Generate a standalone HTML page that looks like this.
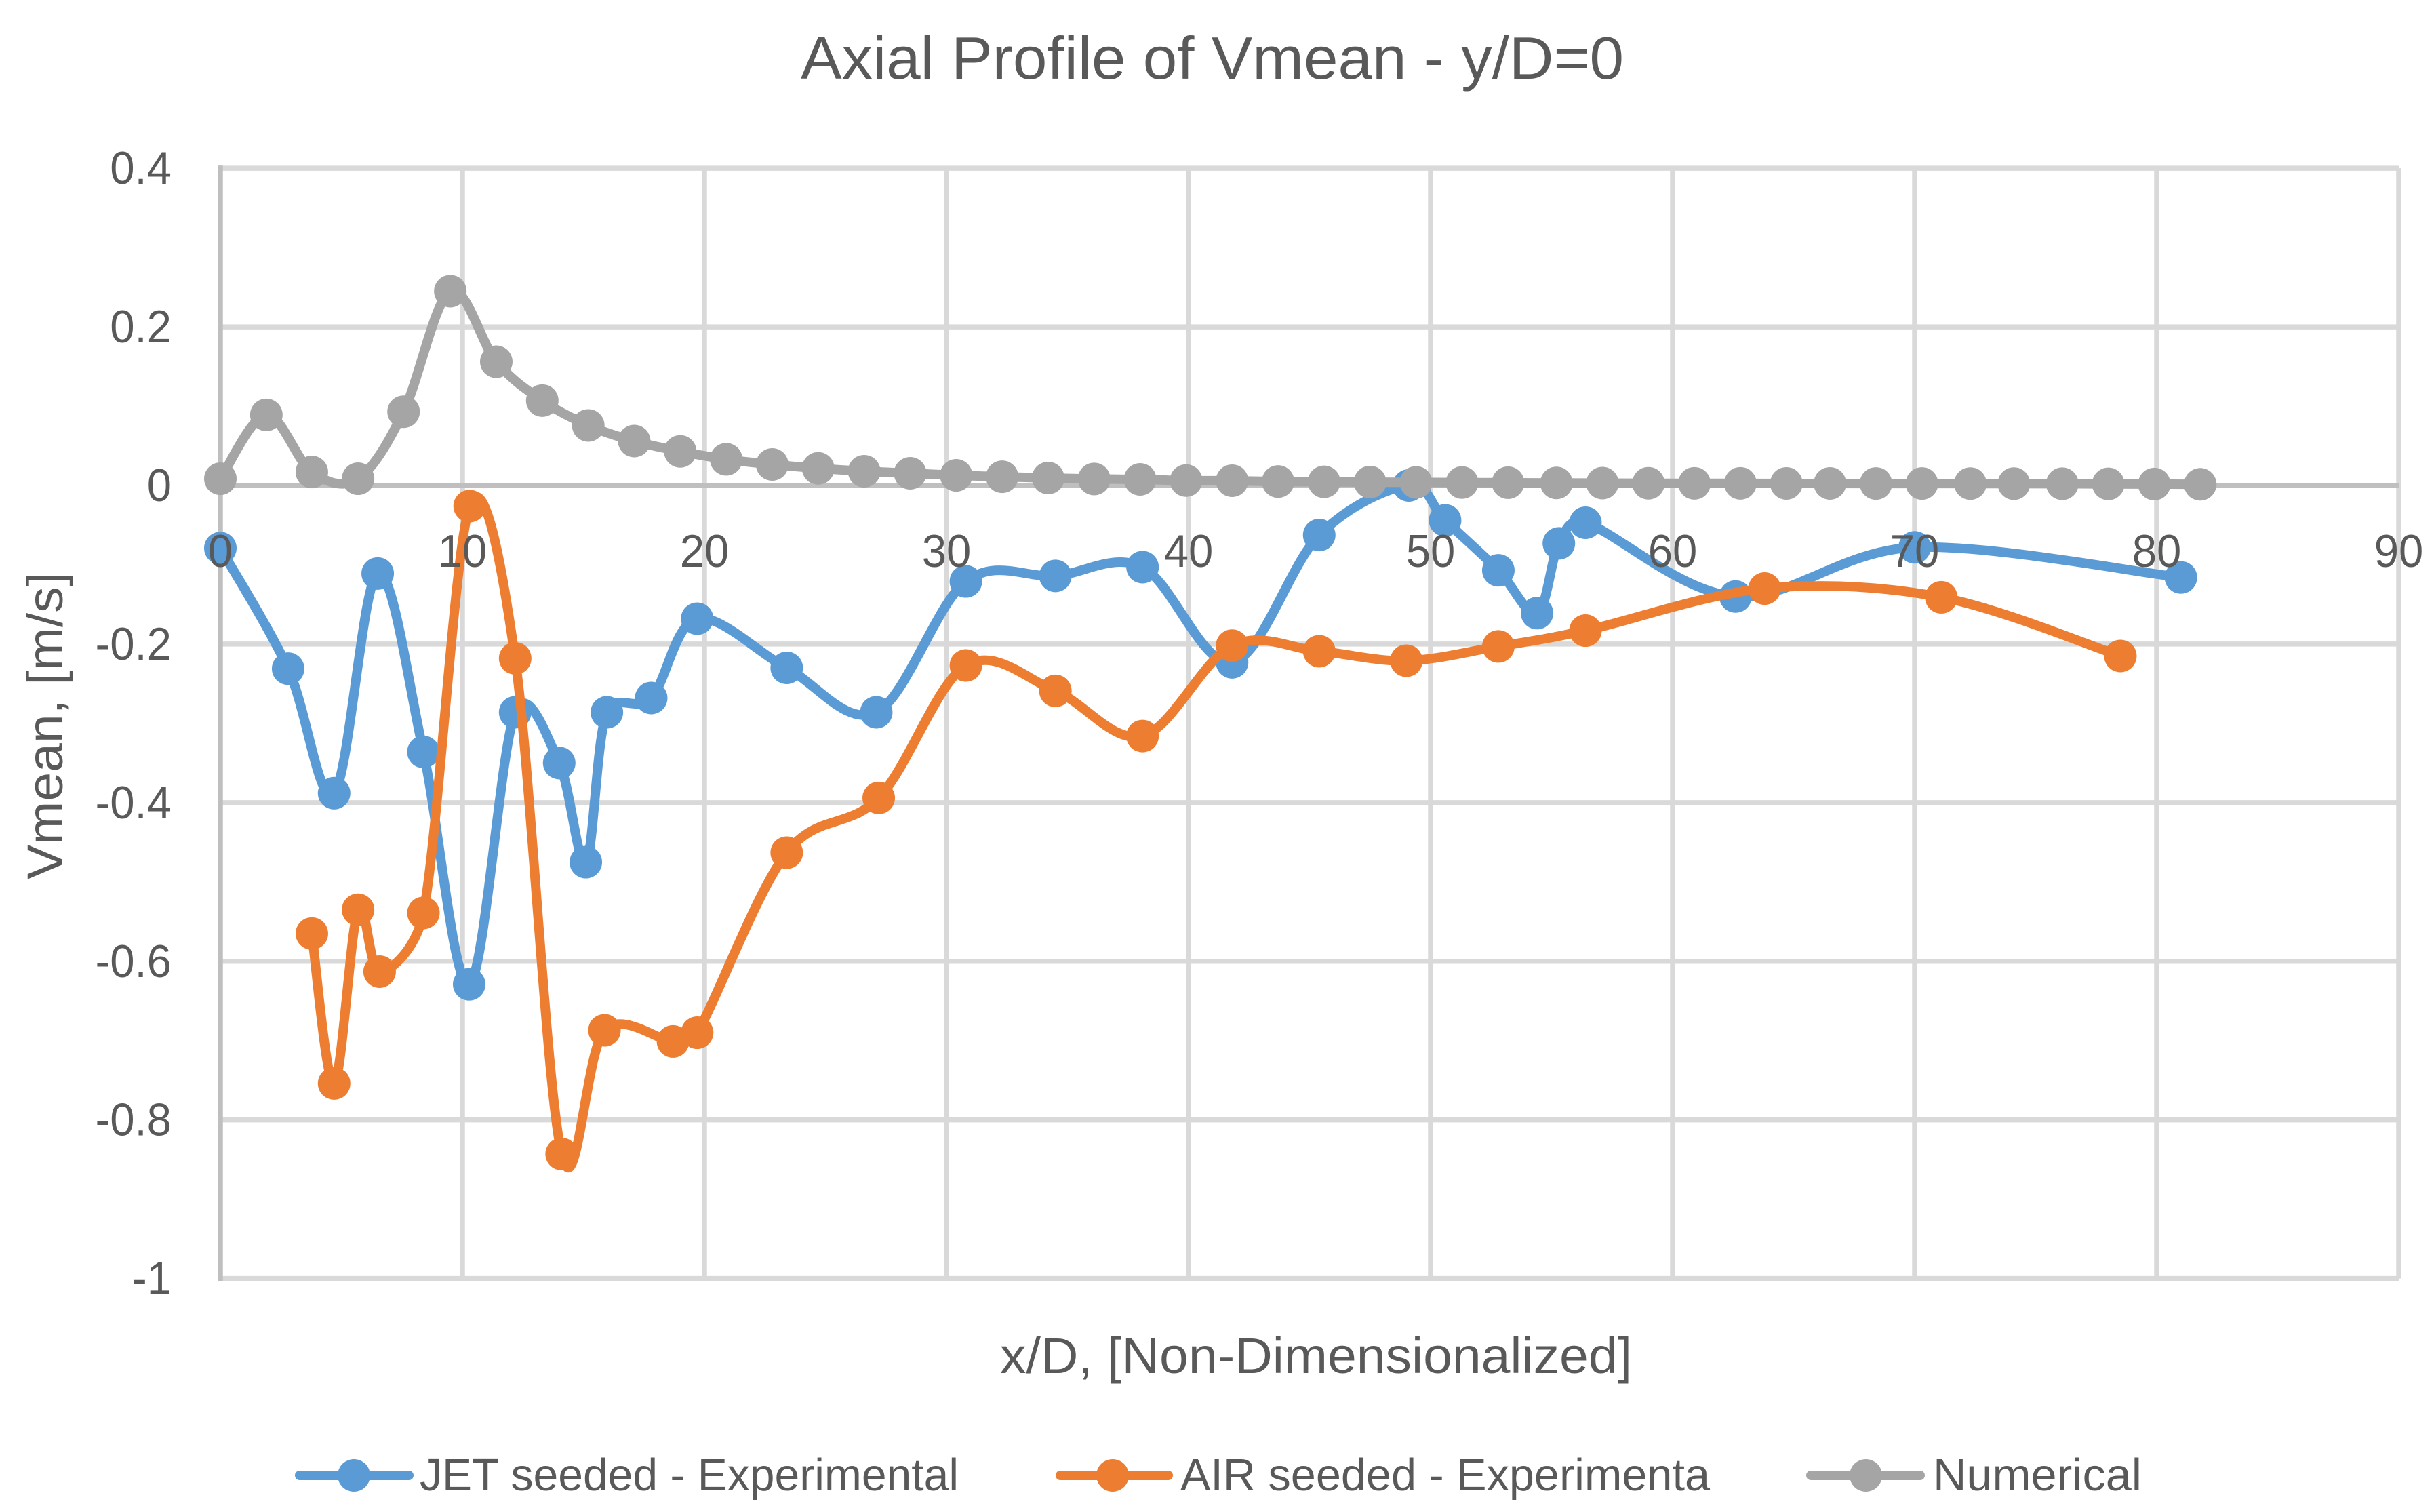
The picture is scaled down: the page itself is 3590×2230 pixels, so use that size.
<!DOCTYPE html>
<html lang="en">
<head>
<meta charset="utf-8">
<title>Axial Profile of Vmean - y/D=0</title>
<style>
html,body{margin:0;padding:0;background:#fff;}
svg{display:block;}
text{font-family:"Liberation Sans",sans-serif;fill:#595959;}
</style>
</head>
<body>
<svg id="chart" xmlns="http://www.w3.org/2000/svg" width="3590" height="2230" viewBox="0 0 3590 2230">
  <rect x="0" y="0" width="3590" height="2230" fill="#ffffff"/>
  <g id="grid"></g>
  <g id="axes"></g>
  <g id="series"></g>
  <g id="ticks"></g>
  <text x="1181" y="116" font-size="88" textLength="1214" lengthAdjust="spacingAndGlyphs">Axial Profile of Vmean - y/D=0</text>
  <text x="1475" y="2025" font-size="74" textLength="932" lengthAdjust="spacingAndGlyphs">x/D, [Non-Dimensionalized]</text>
  <text transform="translate(92,1297) rotate(-90)" x="0" y="0" font-size="74" textLength="453" lengthAdjust="spacingAndGlyphs">Vmean, [m/s]</text>
  <g>
    <g>
      <line x1="442" y1="2176" x2="603" y2="2176" stroke="#5b9bd5" stroke-width="14" stroke-linecap="round"/>
      <circle cx="522" cy="2176" r="24" fill="#5b9bd5"/>
      <text x="619" y="2198" font-size="67" textLength="795" lengthAdjust="spacingAndGlyphs">JET seeded - Experimental</text>
    </g>
    <g>
      <line x1="1564" y1="2176" x2="1723" y2="2176" stroke="#ed7d31" stroke-width="14" stroke-linecap="round"/>
      <circle cx="1641" cy="2176" r="24" fill="#ed7d31"/>
      <text x="1741" y="2198" font-size="67" textLength="781" lengthAdjust="spacingAndGlyphs">AIR seeded - Experimenta</text>
    </g>
    <g>
      <line x1="2671" y1="2176" x2="2832" y2="2176" stroke="#a5a5a5" stroke-width="14" stroke-linecap="round"/>
      <circle cx="2752" cy="2176" r="24" fill="#a5a5a5"/>
      <text x="2851" y="2198" font-size="67" textLength="308" lengthAdjust="spacingAndGlyphs">Numerical</text>
    </g>
  </g>
</svg>
<script>
const xTicks = [0,10,20,30,40,50,60,70,80,90];
const yTicks = [0.4,0.2,0,-0.2,-0.4,-0.6,-0.8,-1];

const jetX = [0,2.8,4.7,6.5,8.39,10.28,12.18,14.0,15.1,15.97,17.8,19.7,23.4,27.1,30.8,34.5,38.1,41.8,45.4,49.1,50.6,52.8,54.4,55.3,56.4,62.6,70.0,81.0];
const jetY = [-0.079,-0.231,-0.388,-0.111,-0.336,-0.629,-0.286,-0.35,-0.475,-0.286,-0.268,-0.168,-0.23,-0.286,-0.121,-0.114,-0.103,-0.223,-0.0625,0.0,-0.044,-0.107,-0.161,-0.073,-0.047,-0.14,-0.078,-0.116];

const airX = [3.78,4.7,5.69,6.58,8.39,10.3,12.18,14.1,15.87,18.7,19.7,23.4,27.2,30.8,34.5,38.1,41.8,45.4,49.0,52.8,56.4,63.8,71.1,78.5];
const airY = [-0.565,-0.754,-0.535,-0.613,-0.539,-0.026,-0.218,-0.843,-0.687,-0.701,-0.69,-0.463,-0.394,-0.227,-0.259,-0.316,-0.202,-0.209,-0.221,-0.203,-0.183,-0.130,-0.141,-0.215];

const numX = [0,1.9,3.78,5.69,7.57,9.5,11.4,13.3,15.2,17.1,19,20.9,22.8,24.7,26.6,28.5,30.4,32.3,34.2,36.1,38.0,39.9,41.8,43.7,45.6,47.5,49.4,51.3,53.2,55.2,57.1,59,60.9,62.8,64.7,66.5,68.4,70.3,72.3,74.1,76.1,78,79.9,81.8];
const numY = [0.0085,0.089,0.017,0.0085,0.093,0.245,0.156,0.107,0.0757,0.056,0.043,0.033,0.0265,0.0216,0.018,0.0154,0.0128,0.011,0.0094,0.0082,0.0077,0.0062,0.006,0.005,0.0046,0.0043,0.0039,0.0037,0.0035,0.0032,0.003,0.0028,0.0027,0.0027,0.0026,0.0026,0.0025,0.0025,0.0024,0.0023,0.0022,0.002,0.0018,0.0015];

const NS = 'http://www.w3.org/2000/svg';
function sx(v){ return 325 + v * 35.7; }
function sy(v){ return 716 - v * 1169.6; }

function smoothPath(xs, ys){
  const p = xs.map(function(x,i){ return [sx(x), sy(ys[i])]; });
  function dist(a,b){ return Math.hypot(a[0]-b[0], a[1]-b[1]); }
  function handle(a, b, seg){
    const vx = (b[0]-a[0]) / 6, vy = (b[1]-a[1]) / 6;
    const len = Math.hypot(vx, vy) || 1;
    const s = Math.min(1, 0.5 * seg / len);
    return [vx * s, vy * s];
  }
  let d = 'M' + p[0][0].toFixed(1) + ' ' + p[0][1].toFixed(1);
  for (let i = 0; i < p.length - 1; i++){
    const p0 = p[Math.max(i-1,0)], p1 = p[i], p2 = p[i+1], p3 = p[Math.min(i+2,p.length-1)];
    const seg = dist(p1,p2);
    const h1 = handle(p0, p2, seg), h2 = handle(p1, p3, seg);
    const c1 = [p1[0] + h1[0], p1[1] + h1[1]];
    const c2 = [p2[0] - h2[0], p2[1] - h2[1]];
    d += 'C' + c1[0].toFixed(1) + ' ' + c1[1].toFixed(1) + ' ' + c2[0].toFixed(1) + ' ' + c2[1].toFixed(1) + ' ' + p2[0].toFixed(1) + ' ' + p2[1].toFixed(1);
  }
  return d;
}

const gridG = document.getElementById('grid');
const axesG = document.getElementById('axes');
const seriesG = document.getElementById('series');
const ticksG = document.getElementById('ticks');

xTicks.forEach(function(t){
  if (t === 0) return;
  const l = document.createElementNS(NS,'line');
  
  
  l.setAttribute('x1', sx(t));
  l.setAttribute('x2', sx(t));
  l.setAttribute('y1', sy(0.4));
  l.setAttribute('y2', sy(-1));
  l.setAttribute('stroke', '#d9d9d9');
  l.setAttribute('stroke-width', '7.5');
  gridG.appendChild(l);
});
yTicks.forEach(function(t){
  if (t === 0) return;
  const l = document.createElementNS(NS,'line');
  
  
  l.setAttribute('x1', sx(0));
  l.setAttribute('x2', sx(90));
  l.setAttribute('y1', sy(t));
  l.setAttribute('y2', sy(t));
  l.setAttribute('stroke', '#d9d9d9');
  l.setAttribute('stroke-width', '7.5');
  gridG.appendChild(l);
});

const xAxis = document.createElementNS(NS,'line');


xAxis.setAttribute('x1', sx(0));
xAxis.setAttribute('x2', sx(90));
xAxis.setAttribute('y1', sy(0));
xAxis.setAttribute('y2', sy(0));
xAxis.setAttribute('stroke', '#bfbfbf');
xAxis.setAttribute('stroke-width', '7.5');
axesG.appendChild(xAxis);

const yAxis = document.createElementNS(NS,'line');


yAxis.setAttribute('x1', sx(0));
yAxis.setAttribute('x2', sx(0));
yAxis.setAttribute('y1', sy(0.4) - 4);
yAxis.setAttribute('y2', sy(-1) + 4);
yAxis.setAttribute('stroke', '#bfbfbf');
yAxis.setAttribute('stroke-width', '7.5');
axesG.appendChild(yAxis);

function drawSeries(name, xs, ys, color){
  const g = document.createElementNS(NS,'g');
  
  
  const path = document.createElementNS(NS,'path');
  
  
  path.setAttribute('d', smoothPath(xs, ys));
  path.setAttribute('fill', 'none');
  path.setAttribute('stroke', color);
  path.setAttribute('stroke-width', '14');
  path.setAttribute('stroke-linecap', 'round');
  path.setAttribute('stroke-linejoin', 'round');
  g.appendChild(path);
  xs.forEach(function(x,i){
    const c = document.createElementNS(NS,'circle');
    
    
    c.setAttribute('cx', sx(x));
    c.setAttribute('cy', sy(ys[i]));
    c.setAttribute('r', '24');
    c.setAttribute('fill', color);
    g.appendChild(c);
  });
  seriesG.appendChild(g);
}
drawSeries('series-jet-seeded', jetX, jetY, '#5b9bd5');
drawSeries('series-air-seeded', airX, airY, '#ed7d31');
drawSeries('series-numerical', numX, numY, '#a5a5a5');

function squeeze(el){
  const natural = el.getComputedTextLength();
  el.setAttribute('textLength', (natural * 0.96).toFixed(1));
  el.setAttribute('lengthAdjust', 'spacingAndGlyphs');
}
xTicks.forEach(function(t){
  const el = document.createElementNS(NS,'text');
  
  
  el.setAttribute('x', sx(t));
  el.setAttribute('y', 836);
  el.setAttribute('font-size', '68');
  el.setAttribute('text-anchor', 'middle');
  el.textContent = String(t);
  ticksG.appendChild(el);
  squeeze(el);
});
yTicks.forEach(function(t){
  const el = document.createElementNS(NS,'text');
  
  
  el.setAttribute('x', 253);
  el.setAttribute('y', sy(t) + 23);
  el.setAttribute('font-size', '68');
  el.setAttribute('text-anchor', 'end');
  el.textContent = String(t);
  ticksG.appendChild(el);
  squeeze(el);
});
</script>
</body>
</html>
